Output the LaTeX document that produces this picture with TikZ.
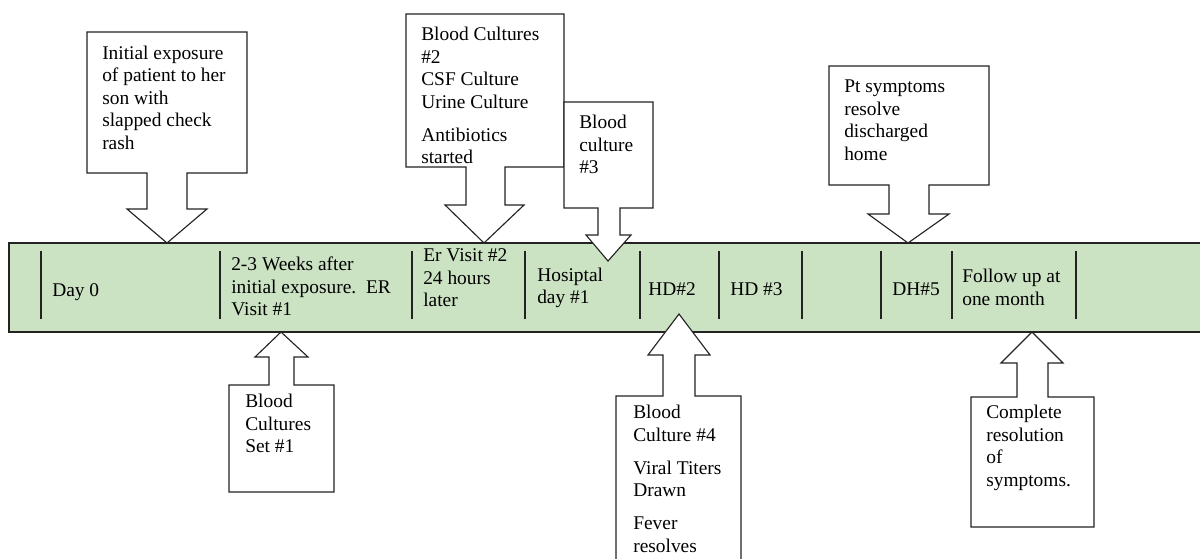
\documentclass[tikz,border=0pt]{standalone}
\usepackage{fontspec}
\setmainfont{Liberation Serif}
\definecolor{bandgreen}{RGB}{203,226,195}
\definecolor{edgegray}{RGB}{35,35,35}

\begin{document}
\begin{tikzpicture}[
            x=0.025cm, y=-0.025cm,
            band/.style={draw=edgegray, line width=0.8pt, fill=bandgreen},
            sep/.style={draw=edgegray, line width=0.8pt},
            callout/.style={draw=edgegray, line width=0.8pt, fill=white, line join=miter},
            lbl/.style={inner sep=0pt, anchor=north west, align=left, font=\fontsize{13.8}{16}\selectfont, execute at begin node=\strut}
        ]
            \useasboundingbox (0,0) rectangle (1200,558);

% Timeline band
            \draw[band] (9,243) rectangle (1210,332);
            \foreach \x in {41,220,412,525,640,719,802,881,952,1076} {
                \draw[sep] (\x,251) -- (\x,319);
            }

% Band labels
            \node[lbl] (day0) at (52,280.8) {Day 0};
            \node[lbl] (er1) at (231,256.8) {2-3 Weeks after\\initial exposure.\ \ ER\\Visit \#1};
            \node[lbl] (er2) at (423,248.8) {Er Visit \#2\\24 hours\\later};
            \node[lbl] (hd1) at (537,267.3) {Hosiptal\\day \#1};
            \node[lbl] (hd2) at (648,279.8) {HD\#2};
            \node[lbl] (hd3) at (730,279.8) {HD \#3};
            \node[lbl] (dh5) at (892,279.8) {DH\#5};
            \node[lbl] (fup) at (962,268.8) {Follow up at\\one month};

% Callouts above the band
            \draw[callout] (87,32) -- (247,32) -- (247,173) -- (187,173) -- (187,209) -- (207,209)
                -- (167,243) -- (127,209) -- (147,209) -- (147,173) -- (87,173) -- cycle;
            \node[lbl] (expo) at (102,45.3) {Initial exposure\\of patient to her\\son with\\slapped check\\rash};

            \draw[callout] (406,14) -- (564,14) -- (564,167) -- (505,167) -- (505,205) -- (524,205)
                -- (484,243) -- (445,205) -- (466,205) -- (466,167) -- (406,167) -- cycle;
            \node[lbl] (bc2) at (421,26.8) {Blood Cultures\\\#2\\CSF Culture\\Urine Culture\\[7.5pt]Antibiotics\\started};

            \draw[callout] (564,102) -- (653,102) -- (653,208) -- (620,208) -- (620,235) -- (631,235)
                -- (608,261) -- (586,235) -- (598,235) -- (598,208) -- (564,208) -- cycle;
            \node[lbl] (bc3) at (579,114.8) {Blood\\culture\\\#3};

            \draw[callout] (829,66) -- (989,66) -- (989,185) -- (929,185) -- (929,214) -- (949,214)
                -- (908,243) -- (868,214) -- (889,214) -- (889,185) -- (829,185) -- cycle;
            \node[lbl] (disch) at (844,79.8) {Pt symptoms\\resolve\\discharged\\home};

% Callouts below the band
            \draw[callout] (281,332) -- (308,357) -- (294,357) -- (294,385) -- (334,385) -- (334,492)
                -- (229,492) -- (229,385) -- (269,385) -- (269,357) -- (255,357) -- cycle;
            \node[lbl] (bc1) at (245,393.8) {Blood\\Cultures\\Set \#1};

            \draw[callout] (679,314) -- (710,355) -- (695,355) -- (695,396) -- (741,396) -- (741,580)
                -- (616,580) -- (616,396) -- (663,396) -- (663,355) -- (648,355) -- cycle;
            \node[lbl] (bc4) at (633,404.8) {Blood\\Culture \#4\\[7.5pt]Viral Titers\\Drawn\\[7.5pt]Fever\\resolves};

            \draw[callout] (1032,332) -- (1063,363) -- (1048,363) -- (1048,397) -- (1094,397) -- (1094,527)
                -- (971,527) -- (971,397) -- (1017,397) -- (1017,363) -- (1001,363) -- cycle;
            \node[lbl] (resol) at (986,404.8) {Complete\\resolution\\of\\symptoms.};

        \end{tikzpicture}
\end{document}
